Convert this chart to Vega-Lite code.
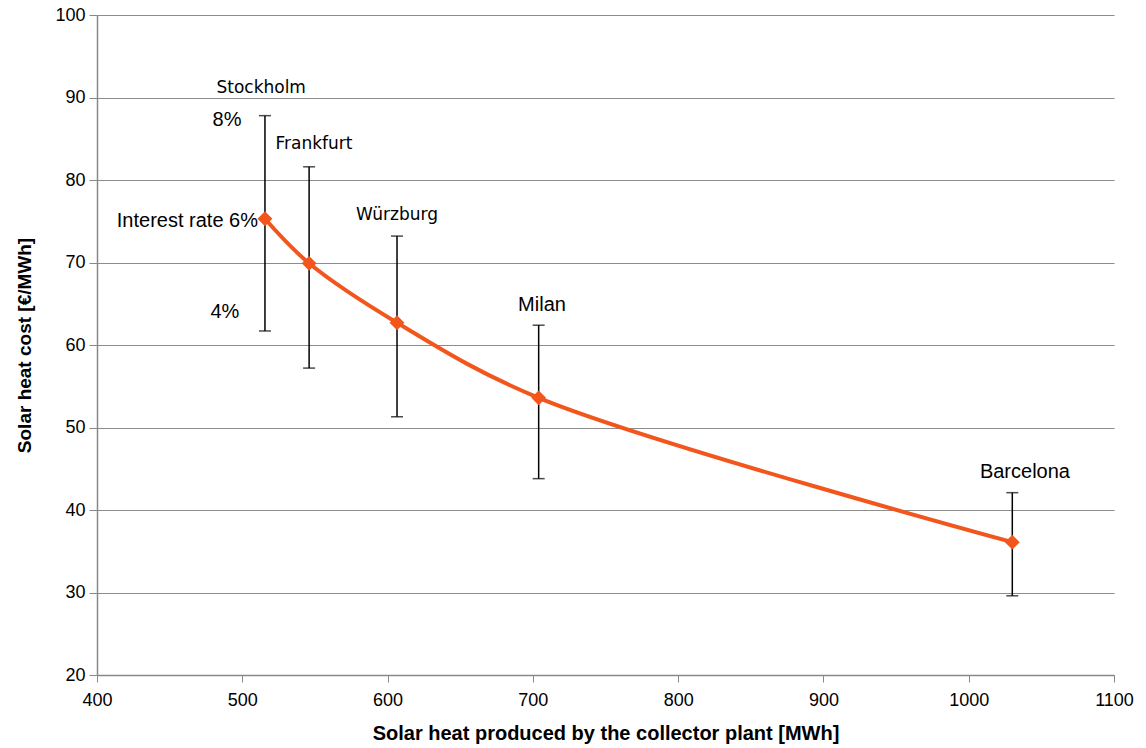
{
  "$schema": "https://vega.github.io/schema/vega-lite/v6.json",
  "width": 1017,
  "height": 660,
  "autosize": {"type": "none"},
  "padding": {"left": 97, "top": 15, "right": 32, "bottom": 73},
  "background": "white",
  "config": {
    "view": {"stroke": null},
    "font": "Liberation Sans"
  },
  "datasets": {
    "cities": [
      {"city": "Stockholm", "heat": 515.6, "cost": 75.3, "lo": 61.7, "hi": 87.8},
      {"city": "Frankfurt", "heat": 546.0, "cost": 69.9, "lo": 57.2, "hi": 81.6},
      {"city": "Würzburg", "heat": 606.5, "cost": 62.7, "lo": 51.3, "hi": 73.2},
      {"city": "Milan", "heat": 704.0, "cost": 53.6, "lo": 43.8, "hi": 62.4},
      {"city": "Barcelona", "heat": 1030.0, "cost": 36.1, "lo": 29.6, "hi": 42.1}
    ],
    "labelsA": [
      {"label": "Stockholm", "lx": 513.0, "ly": 91.2},
      {"label": "Frankfurt", "lx": 549.3, "ly": 84.4},
      {"label": "Würzburg", "lx": 606.5, "ly": 75.8}
    ],
    "labelsB": [
      {"label": "8%", "lx": 489.5, "ly": 87.3},
      {"label": "4%", "lx": 488.0, "ly": 64.0},
      {"label": "Milan", "lx": 706.3, "ly": 64.8},
      {"label": "Barcelona", "lx": 1038.7, "ly": 44.6}
    ],
    "labelsC": [
      {"label": "Interest rate 6%", "lx": 510.8, "ly": 75.0}
    ]
  },
  "layer": [
    {
      "data": {"name": "cities"},
      "mark": {"type": "rule", "color": "black", "strokeWidth": 1.5},
      "encoding": {
        "x": {
          "field": "heat", "type": "quantitative",
          "scale": {"domain": [400, 1100], "nice": false, "zero": false},
          "axis": {
            "title": "Solar heat produced  by the  collector  plant [MWh]",
            "titleFont": "Liberation Sans", "titleFontSize": 20, "titleFontWeight": "bold",
            "titleColor": "black", "titlePadding": 14,
            "labelFont": "Liberation Sans", "labelFontSize": 18, "labelColor": "black",
            "labelPadding": 9, "values": [400, 500, 600, 700, 800, 900, 1000, 1100],
            "format": "d", "labelOverlap": false,
            "grid": false, "domainColor": "#888888", "domainWidth": 1.5,
            "tickColor": "#888888", "tickSize": 7, "labelFlush": false
          }
        },
        "y": {
          "field": "lo", "type": "quantitative",
          "scale": {"domain": [20, 100], "nice": false, "zero": false},
          "axis": {
            "title": "Solar heat cost [€/MWh]",
            "titleFont": "Liberation Sans", "titleFontSize": 19, "titleFontWeight": "bold",
            "titleColor": "black", "titlePadding": 20,
            "labelFont": "Liberation Sans", "labelFontSize": 18, "labelColor": "black",
            "labelPadding": 4, "values": [20, 30, 40, 50, 60, 70, 80, 90, 100],
            "format": "d", "labelOverlap": false,
            "grid": true, "gridColor": "#8c8c8c", "gridWidth": 1.2,
            "domainColor": "#888888", "domainWidth": 1.5,
            "tickColor": "#888888", "tickSize": 8
          }
        },
        "y2": {"field": "hi"}
      }
    },
    {
      "data": {"name": "cities"},
      "mark": {"type": "tick", "orient": "horizontal", "color": "black", "thickness": 1.5, "size": 12},
      "encoding": {
        "x": {"field": "heat", "type": "quantitative"},
        "y": {"field": "hi", "type": "quantitative"}
      }
    },
    {
      "data": {"name": "cities"},
      "mark": {"type": "tick", "orient": "horizontal", "color": "black", "thickness": 1.5, "size": 12},
      "encoding": {
        "x": {"field": "heat", "type": "quantitative"},
        "y": {"field": "lo", "type": "quantitative"}
      }
    },
    {
      "data": {"name": "cities"},
      "mark": {"type": "line", "color": "#F2561D", "strokeWidth": 4, "interpolate": "catmull-rom"},
      "encoding": {
        "x": {"field": "heat", "type": "quantitative"},
        "y": {"field": "cost", "type": "quantitative"}
      }
    },
    {
      "data": {"name": "cities"},
      "mark": {"type": "point", "shape": "diamond", "filled": true, "color": "#F2561D", "size": 220, "opacity": 1},
      "encoding": {
        "x": {"field": "heat", "type": "quantitative"},
        "y": {"field": "cost", "type": "quantitative"}
      }
    },
    {
      "data": {"name": "labelsA"},
      "mark": {"type": "text", "font": "DejaVu Sans", "fontSize": 17, "color": "black", "align": "center", "baseline": "middle"},
      "encoding": {
        "x": {"field": "lx", "type": "quantitative"},
        "y": {"field": "ly", "type": "quantitative"},
        "text": {"field": "label"}
      }
    },
    {
      "data": {"name": "labelsB"},
      "mark": {"type": "text", "font": "Liberation Sans", "fontSize": 20, "color": "black", "align": "center", "baseline": "middle"},
      "encoding": {
        "x": {"field": "lx", "type": "quantitative"},
        "y": {"field": "ly", "type": "quantitative"},
        "text": {"field": "label"}
      }
    },
    {
      "data": {"name": "labelsC"},
      "mark": {"type": "text", "font": "Liberation Sans", "fontSize": 20, "color": "black", "align": "right", "baseline": "middle"},
      "encoding": {
        "x": {"field": "lx", "type": "quantitative"},
        "y": {"field": "ly", "type": "quantitative"},
        "text": {"field": "label"}
      }
    }
  ]
}
